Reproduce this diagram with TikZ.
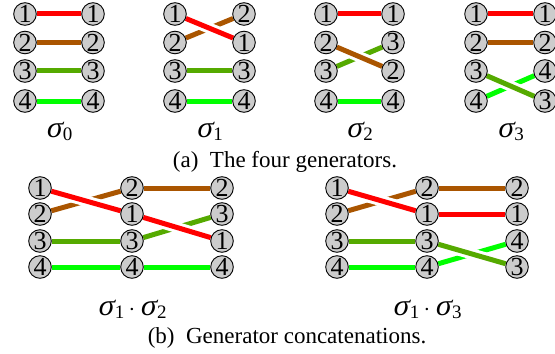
\documentclass[tikz,border=0pt]{standalone}
\usepackage{fontspec}
\setmainfont{Liberation Serif}
\newfontfamily\sigfont[FakeSlant=0.2]{Liberation Serif}
\usetikzlibrary{backgrounds}
\definecolor{cone}{RGB}{255,0,0}
\definecolor{ctwo}{RGB}{170,85,0}
\definecolor{cthree}{RGB}{85,170,0}
\definecolor{cfour}{RGB}{0,255,0}
\definecolor{nodefill}{RGB}{204,204,204}
\newcommand{\sig}[1]{{\fontsize{15}{15}\sigfont σ}\kern0.6pt{\fontsize{9.5}{9.5}\selectfont\raisebox{-0.45ex}{#1}}}
\newcommand{\cdt}{{\fontsize{13}{13}\selectfont\,$\cdot$\,}}
\tikzset{
  pnode/.style={circle, draw=black, fill=nodefill, line width=0.45pt, minimum size=11.3pt, inner sep=0pt, font=\fontsize{13}{13}\selectfont},
  wire/.style={line width=2.5pt},
  overwire/.style={line width=2.5pt, preaction={draw=white, line width=5.5pt}},
  lbl/.style={anchor=base, inner sep=0pt},
  capt/.style={anchor=base, inner sep=0pt, font=\fontsize{11.5}{11.5}\selectfont},
}
\begin{document}
\begin{tikzpicture}[x=0.5pt, y=-0.5pt]
\useasboundingbox (0,0) rectangle (555,353);
% ---------- generators ----------
% sigma0
\node[pnode] (a1) at (25,14) {1};
\node[pnode] (a2) at (25,42.5) {2};
\node[pnode] (a3) at (25,71) {3};
\node[pnode] (a4) at (25,101) {4};
\node[pnode] (A1) at (93,14) {1};
\node[pnode] (A2) at (93,42.5) {2};
\node[pnode] (A3) at (93,71) {3};
\node[pnode] (A4) at (93,101) {4};
% sigma1
\node[pnode] (b1) at (175,14) {1};
\node[pnode] (b2) at (175,42.5) {2};
\node[pnode] (b3) at (175,71) {3};
\node[pnode] (b4) at (175,101) {4};
\node[pnode] (B2) at (244,14) {2};
\node[pnode] (B1) at (244,42.5) {1};
\node[pnode] (B3) at (244,71) {3};
\node[pnode] (B4) at (244,101) {4};
% sigma2
\node[pnode] (c1) at (326,14) {1};
\node[pnode] (c2) at (326,42.5) {2};
\node[pnode] (c3) at (326,71) {3};
\node[pnode] (c4) at (326,101) {4};
\node[pnode] (C1) at (393,14) {1};
\node[pnode] (C3) at (393,42.5) {3};
\node[pnode] (C2) at (393,71) {2};
\node[pnode] (C4) at (393,101) {4};
% sigma3
\node[pnode] (d1) at (476,14) {1};
\node[pnode] (d2) at (476,42.5) {2};
\node[pnode] (d3) at (476,71) {3};
\node[pnode] (d4) at (476,101) {4};
\node[pnode] (D1) at (545,14) {1};
\node[pnode] (D2) at (545,42.5) {2};
\node[pnode] (D4) at (545,71) {4};
\node[pnode] (D3) at (545,101) {3};
\node[lbl] (la) at (59,137) {\sig{0}};
\node[lbl] (lb) at (209.5,137) {\sig{1}};
\node[lbl] (lc) at (359.5,137) {\sig{2}};
\node[lbl] (ld) at (510.5,137) {\sig{3}};
\node[capt] (capa) at (285,167) {(a)\ \ The four generators.};
% ---------- concatenations ----------
\node[pnode] (e1) at (40,188) {1};
\node[pnode] (e2) at (40,214) {2};
\node[pnode] (e3) at (40,241) {3};
\node[pnode] (e4) at (40,267) {4};
\node[pnode] (f2) at (132,188) {2};
\node[pnode] (f1) at (132,214) {1};
\node[pnode] (f3) at (132,241) {3};
\node[pnode] (f4) at (132,267) {4};
\node[pnode] (g2) at (222,188) {2};
\node[pnode] (g3) at (222,214) {3};
\node[pnode] (g1) at (222,241) {1};
\node[pnode] (g4) at (222,267) {4};
\node[pnode] (h1) at (337,188) {1};
\node[pnode] (h2) at (337,214) {2};
\node[pnode] (h3) at (337,241) {3};
\node[pnode] (h4) at (337,267) {4};
\node[pnode] (i2) at (427,188) {2};
\node[pnode] (i1) at (427,214) {1};
\node[pnode] (i3) at (427,241) {3};
\node[pnode] (i4) at (427,267) {4};
\node[pnode] (j2) at (517,188) {2};
\node[pnode] (j1) at (517,214) {1};
\node[pnode] (j4) at (517,241) {4};
\node[pnode] (j3) at (517,267) {3};
\node[lbl] (le) at (132,315) {\sig{1}\cdt\sig{2}};
\node[lbl] (lh) at (427,315) {\sig{1}\cdt\sig{3}};
\node[capt] (capb) at (287,343) {(b)\ \ Generator concatenations.};
\begin{pgfonlayer}{background}
% under wires
\draw[wire, cone] (a1) -- (A1);
\draw[wire, ctwo] (a2) -- (A2);
\draw[wire, cthree] (a3) -- (A3);
\draw[wire, cfour] (a4) -- (A4);
\draw[wire, ctwo] (b2) -- (B2);
\draw[wire, cthree] (b3) -- (B3);
\draw[wire, cfour] (b4) -- (B4);
\draw[wire, cone] (c1) -- (C1);
\draw[wire, cthree] (c3) -- (C3);
\draw[wire, cfour] (c4) -- (C4);
\draw[wire, cone] (d1) -- (D1);
\draw[wire, ctwo] (d2) -- (D2);
\draw[wire, cfour] (d4) -- (D4);
\draw[wire, ctwo] (e2) -- (f2);
\draw[wire, ctwo] (f2) -- (g2);
\draw[wire, cthree] (e3) -- (f3);
\draw[wire, cthree] (f3) -- (g3);
\draw[wire, cfour] (e4) -- (f4);
\draw[wire, cfour] (f4) -- (g4);
\draw[wire, ctwo] (h2) -- (i2);
\draw[wire, ctwo] (i2) -- (j2);
\draw[wire, cone] (i1) -- (j1);
\draw[wire, cthree] (h3) -- (i3);
\draw[wire, cfour] (h4) -- (i4);
\draw[wire, cfour] (i4) -- (j4);
% over wires
\draw[overwire, cone] (b1) -- (B1);
\draw[overwire, ctwo] (c2) -- (C2);
\draw[overwire, cthree] (d3) -- (D3);
\draw[overwire, cone] (e1) -- (f1);
\draw[overwire, cone] (f1) -- (g1);
\draw[overwire, cone] (h1) -- (i1);
\draw[overwire, cthree] (i3) -- (j3);
\end{pgfonlayer}
\end{tikzpicture}
\end{document}
